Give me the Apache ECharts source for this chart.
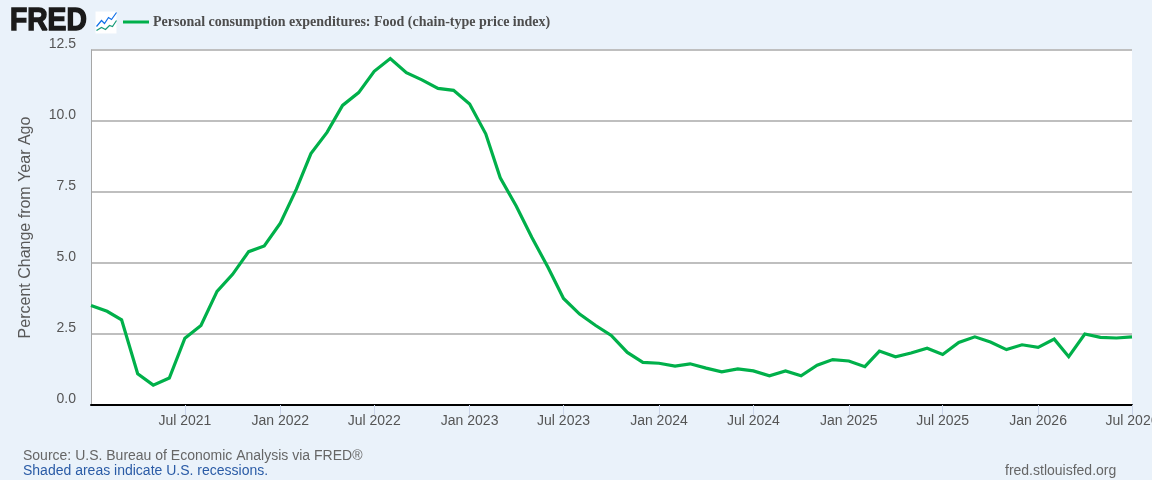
<!DOCTYPE html>
<html><head><meta charset="utf-8">
<style>html,body{margin:0;padding:0;background:#eaf2fa}#c{width:1152px;height:480px}</style>
<script src="https://cdn.jsdelivr.net/npm/echarts@6/dist/echarts.min.js"></script>
</head><body><div id="c"></div>
<script>
const seriesName = 'Personal consumption expenditures: Food (chain-type price index)';
const startYear = 2021;
const values = [3.5,3.3,3.0,1.1,0.7,0.95,2.35,2.8,4.0,4.6,5.4,5.6,
6.4,7.6,8.85,9.6,10.55,11.0,11.75,12.2,11.7,11.45,11.15,11.08,
10.6,9.55,8.0,7.0,5.9,4.85,3.75,3.2,2.8,2.45,1.85,1.5,
1.47,1.37,1.45,1.3,1.17,1.27,1.2,1.03,1.2,1.03,1.4,1.6,
1.55,1.35,1.9,1.7,1.83,2.0,1.78,2.2,2.4,2.22,1.95,2.12,
2.03,2.32,1.7,2.5,2.38,2.36,2.4];
const tickDates = ['2021-07-01','2022-01-01','2022-07-01','2023-01-01','2023-07-01','2024-01-01','2024-07-01','2025-01-01','2025-07-01','2026-01-01','2026-07-01'];
const tickLabels = ['Jul 2021','Jan 2022','Jul 2022','Jan 2023','Jul 2023','Jan 2024','Jul 2024','Jan 2025','Jul 2025','Jan 2026','Jul 2026'];
const sans = '"Liberation Sans", Arial, sans-serif';
const ts = s => Date.parse(s + 'T00:00:00Z');
const tickTimes = tickDates.map(ts);
const data = values.map((v,i)=>[Date.UTC(startYear,i,1),v]);
const chart = echarts.init(document.getElementById('c'),null,{renderer:'canvas'});
chart.setOption({
  animation:false,
  backgroundColor:'#eaf2fa',
  grid:{left:91,right:20,top:50,bottom:75,backgroundColor:'#fff',show:true,borderWidth:0,outerBoundsMode:'none'},
  legend:{
    left:118,top:10,itemWidth:26,itemHeight:3,itemGap:0,
    icon:'rect',
    data:[{name:seriesName}],
    textStyle:{fontFamily:'"Liberation Serif", serif',fontWeight:'bold',fontSize:14,color:'#4d4d4d',padding:[0,0,0,-1]}
  },
  xAxis:{
    type:'value',min:data[0][0],max:data[data.length-1][0],scale:true,
    axisLine:{show:true,onZero:false,lineStyle:{color:'#000',width:2}},
    axisTick:{show:true,length:10,lineStyle:{color:'#ccd6eb',width:1},customValues:tickTimes},
    axisLabel:{customValues:tickTimes,hideOverlap:false,showMinLabel:true,showMaxLabel:true,
      formatter:v=>tickLabels[tickTimes.indexOf(+v)]||'',
      color:'#555',fontFamily:sans,fontSize:14,margin:9},
    splitLine:{show:false}
  },
  yAxis:{
    type:'value',min:0,max:12.5,interval:2.5,
    name:'Percent Change from Year Ago',nameLocation:'middle',nameGap:57,
    nameTextStyle:{color:'#595959',fontFamily:sans,fontSize:16},
    axisLine:{show:true,lineStyle:{color:'#a6a6a6',width:1}},
    axisTick:{show:false},
    axisLabel:{formatter:v=>v.toFixed(1),color:'#555',fontFamily:sans,fontSize:14,margin:15,verticalAlign:'bottom',lineHeight:12},
    splitLine:{show:true,lineStyle:{color:'#bfbfbf',width:2}}
  },
  series:[{name:seriesName,type:'line',data:data,showSymbol:false,symbol:'none',
    lineStyle:{color:'#00b04a',width:3.2,cap:'butt',join:'miter'},itemStyle:{color:'#00b04a'},clip:true,z:5}],
  graphic:[
    {type:'text',x:10,y:6,scaleX:0.94,scaleY:1.03,style:{text:'FRED',fontFamily:sans,fontWeight:'bold',fontSize:30,fill:'#1a1a1a',stroke:'#1a1a1a',lineWidth:1.4}},
    {type:'group',left:94,top:10,children:[
      {type:'rect',shape:{x:0,y:0,width:21,height:22},style:{fill:'#fff'}},
      {type:'polyline',shape:{points:[[1,15],[6,9],[9,12],[13,6],[16,8],[21,1]]},style:{fill:'none',stroke:'#0f6fe8',lineWidth:1.2}},
      {type:'polyline',shape:{points:[[1,19],[6,16],[10,18],[14,14],[17,15],[21,9]]},style:{fill:'none',stroke:'#159a78',lineWidth:1.2}}
    ]},
    {type:'text',left:23,top:449,style:{text:'Source: U.S. Bureau of Economic Analysis via FRED®',fontFamily:sans,fontSize:14,fill:'#666'}},
    {type:'text',left:23,top:464,style:{text:'Shaded areas indicate U.S. recessions.',fontFamily:sans,fontSize:14,fill:'#2a5ba6'}},
    {type:'text',left:1005,top:464,style:{text:'fred.stlouisfed.org',fontFamily:sans,fontSize:14,fill:'#666'}}
  ]
});
</script></body></html>
